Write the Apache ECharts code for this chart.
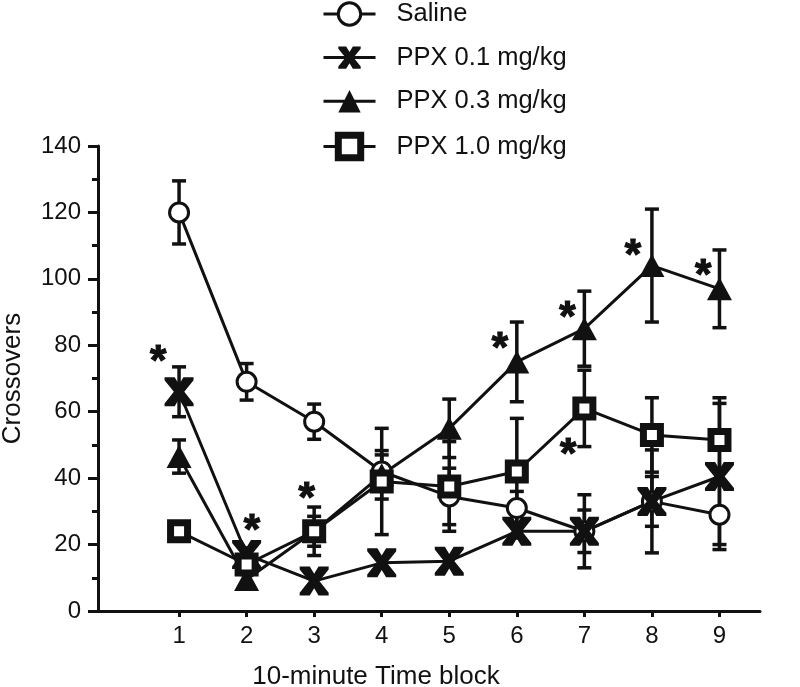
<!DOCTYPE html>
<html>
<head>
<meta charset="utf-8">
<script src="https://cdn.jsdelivr.net/npm/echarts@6/dist/echarts.min.js"></script>
<style>
  html, body { margin: 0; padding: 0; background: #fff; }
  #chart { width: 800px; height: 687px; }
</style>
</head>
<body>
<div id="chart"></div>
<script>
// ---- data ----
const blocks = [1, 2, 3, 4, 5, 6, 7, 8, 9];
const xTickLabels = ['1', '2', '3', '4', '5', '6', '7', '8', '9'];
const seriesNames = ['Saline', 'PPX 0.1 mg/kg', 'PPX 0.3 mg/kg', 'PPX 1.0 mg/kg'];

const saline    = [120, 69, 57, 42, 34.5, 31, 24, 33, 29];
const salineSE  = [9.5, 5.5, 5.3, 5, 8.5, 5, 6.4, 7.5, 9];
const ppx01     = [66, 17, 9, 14.5, 15, 24, 24, 33, 40.5];
const ppx01SE   = [7.5, 2, 1.5, 1.5, 1.5, 2, 11, 15.5, 22];
const ppx03     = [46.5, 9.5, 24, 41, 55, 75, 85, 104, 97];
const ppx03SE   = [5, 1.5, 4.5, 7.3, 8.8, 12, 11.3, 17, 11.7];
const ppx10     = [24, 14, 24, 39, 37.5, 42, 61, 53, 51.5];
const ppx10SE   = [1.5, 2, 7.3, 16, 13.5, 16, 11.5, 11.2, 12.7];

// significance asterisks (data coordinates)
const starX = [0.69, 2.08, 2.89, 5.75, 6.75, 6.76, 7.72, 8.76];
const starY = [77.4, 26.8, 36.2, 81.4, 90.9, 49.6, 109.5, 103.5];

const yMin = 0, yMax = 140, yStep = 20;

// ---- chart ----
const FONT = '"Liberation Sans", Arial, Helvetica, sans-serif';
const INK = '#111111';
const X_PATH = 'path://M0,0 L3.5,0 L5,2.5 L6.5,0 L10,0 L10,1 L6.8,5 L10,9 L10,10 L6.5,10 L5,7.5 L3.5,10 L0,10 L0,9 L3.2,5 L0,1 Z';

const pairs = (ys) => blocks.map((b, i) => [b, ys[i]]);
const errPairs = (ys, es) => blocks.map((b, i) => [b, ys[i], es[i]]);

function renderErr(params, api) {
  const x = api.value(0), y = api.value(1), e = api.value(2);
  const hi = api.coord([x, y + e]);
  const lo = api.coord([x, y - e]);
  const w = 7;
  const st = { stroke: INK, lineWidth: 3.5 };
  return {
    type: 'group',
    children: [
      { type: 'line', shape: { x1: hi[0], y1: hi[1], x2: lo[0], y2: lo[1] }, style: st },
      { type: 'line', shape: { x1: hi[0] - w, y1: hi[1], x2: hi[0] + w, y2: hi[1] }, style: st },
      { type: 'line', shape: { x1: lo[0] - w, y1: lo[1], x2: lo[0] + w, y2: lo[1] }, style: st }
    ]
  };
}

const errSeries = [
  [saline, salineSE], [ppx01, ppx01SE], [ppx03, ppx03SE], [ppx10, ppx10SE]
].map(([v, e], i) => ({
  type: 'custom',
  name: 'err' + i,
  renderItem: renderErr,
  data: errPairs(v, e),
  encode: { x: 0, y: 1 },
  z: 1,
  silent: true
}));

const lineBase = {
  type: 'line',
  z: 3,
  lineStyle: { color: INK, width: 3 },
  emphasis: { disabled: true }
};

const option = {
  animation: false,
  backgroundColor: '#fff',
  textStyle: { fontFamily: FONT, color: INK },
  grid: { left: 98, right: 40, top: 146, bottom: 76, containLabel: false, outerBoundsMode: 'none' },
  legend: {
    orient: 'vertical',
    left: 322,
    top: 1,
    padding: 0,
    itemWidth: 52,
    itemHeight: 28,
    itemGap: 17.6,
    lineStyle: { width: 3, color: INK },
    data: [
      { name: seriesNames[0], itemStyle: { color: '#fff', borderColor: INK, borderWidth: 3 } },
      { name: seriesNames[1] },
      { name: seriesNames[2] },
      { name: seriesNames[3], itemStyle: { color: '#fff', borderColor: INK, borderWidth: 7 } }
    ],
    textStyle: { fontSize: 25.5, color: INK, fontFamily: FONT, padding: [0, 0, 0, 16] },
    selectedMode: false
  },
  xAxis: {
    type: 'value',
    min: -0.2,
    max: 9.6,
    name: '10-minute Time block',
    nameLocation: 'middle',
    nameGap: 53,
    nameTextStyle: { fontSize: 26, color: INK, fontFamily: FONT, padding: [0, 106, 0, 0] },
    axisLine: { onZero: false, lineStyle: { color: INK, width: 3 } },
    axisTick: { show: true, customValues: blocks, length: 6, lineStyle: { color: INK, width: 3 } },
    axisLabel: {
      customValues: blocks,
      formatter: (v) => xTickLabels[blocks.indexOf(v)] ?? '',
      fontSize: 24, color: INK, fontFamily: FONT, margin: 13
    },
    splitLine: { show: false }
  },
  yAxis: {
    type: 'value',
    min: yMin,
    max: yMax,
    interval: yStep,
    name: 'Crossovers',
    nameLocation: 'middle',
    nameGap: 72,
    nameTextStyle: { fontSize: 26, color: INK, fontFamily: FONT },
    axisLine: { show: true, onZero: false, lineStyle: { color: INK, width: 3 } },
    axisTick: { show: true, length: 10, lineStyle: { color: INK, width: 3 } },
    minorTick: { show: true, splitNumber: 2, length: 6, lineStyle: { color: INK, width: 3 } },
    axisLabel: { fontSize: 24, color: INK, fontFamily: FONT, margin: 17 },
    splitLine: { show: false }
  },
  series: [
    ...errSeries,
    Object.assign({}, lineBase, {
      name: seriesNames[0],
      data: pairs(saline),
      symbol: 'circle',
      symbolSize: 19,
      itemStyle: { color: '#fff', borderColor: INK, borderWidth: 3 }
    }),
    Object.assign({}, lineBase, {
      name: seriesNames[1],
      data: pairs(ppx01),
      symbol: X_PATH,
      symbolSize: 29,
      symbolKeepAspect: true,
      itemStyle: { color: INK, borderWidth: 0 }
    }),
    Object.assign({}, lineBase, {
      name: seriesNames[2],
      data: pairs(ppx03),
      symbol: 'triangle',
      symbolSize: [25, 23],
      itemStyle: { color: INK, borderWidth: 0 }
    }),
    Object.assign({}, lineBase, {
      name: seriesNames[3],
      data: pairs(ppx10),
      symbol: 'rect',
      symbolSize: 17,
      itemStyle: { color: '#fff', borderColor: INK, borderWidth: 7 }
    }),
    {
      type: 'scatter',
      name: 'stars',
      z: 5,
      silent: true,
      symbol: 'circle',
      symbolSize: 1,
      itemStyle: { color: 'transparent', opacity: 1 },
      data: starX.map((x, i) => [x, starY[i]]),
      label: {
        show: true,
        position: 'inside',
        formatter: '*',
        fontSize: 42,
        fontWeight: 'bold',
        color: INK,
        opacity: 1,
        textBorderColor: INK,
        textBorderWidth: 1.2,
        fontFamily: FONT,
        offset: [0, 9]
      }
    }
  ]
};

const chart = echarts.init(document.getElementById('chart'), null, { renderer: 'canvas' });
chart.setOption(option);
</script>
</body>
</html>
